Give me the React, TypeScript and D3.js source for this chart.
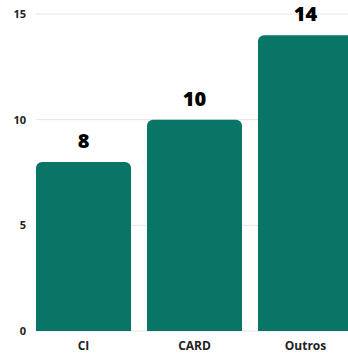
import React from "react";
import * as d3 from "d3";

const categories = ["CI", "CARD", "Outros"];
const values = [8, 10, 14];
const yTicks = [0, 5, 10, 15];

const W = 348;
const H = 356;
const FONT = "'Open Sans', 'Noto Sans', sans-serif";

export default function App() {
  const x = d3.scaleBand<string>().domain(categories).range([36, 353]).paddingInner(0.144).paddingOuter(0);
  const y = d3.scaleLinear().domain([0, 15]).range([331, 14]);
  const r = 6;
  const barPath = (c: string, v: number) => {
    const x0 = x(c)!;
    const w = x.bandwidth();
    const y0 = y(v);
    const yb = y(0);
    const p = d3.path();
    p.moveTo(x0, yb);
    p.lineTo(x0, y0 + r);
    p.arcTo(x0, y0, x0 + r, y0, r);
    p.lineTo(x0 + w - r, y0);
    p.arcTo(x0 + w, y0, x0 + w, y0 + r, r);
    p.lineTo(x0 + w, yb);
    p.closePath();
    return p.toString();
  };
  return (
    <svg width={W} height={H} style={{ position: "absolute", left: 0, top: 0, background: "#fff" }} fontFamily={FONT}>
      {yTicks.map((t) => (
        <g key={t}>
          <line x1={36} x2={W} y1={y(t)} y2={y(t)} stroke="#e4e4e4" strokeWidth={1} />
          <text x={26} y={y(t)} dy="0.35em" textAnchor="end" fontSize={11} fontWeight={700} fill="#222">
            {t}
          </text>
        </g>
      ))}
      {categories.map((c, i) => (
        <g key={c}>
          <path d={barPath(c, values[i])} fill="#087567" />
          <text x={x(c)! + x.bandwidth() / 2} y={y(values[i]) - 14} textAnchor="middle" fontSize={20} fontWeight={800} fill="#000">
            {values[i]}
          </text>
          <text x={x(c)! + x.bandwidth() / 2} y={350} textAnchor="middle" fontSize={12} fontWeight={700} fill="#222">
            {c}
          </text>
        </g>
      ))}
    </svg>
  );
}
